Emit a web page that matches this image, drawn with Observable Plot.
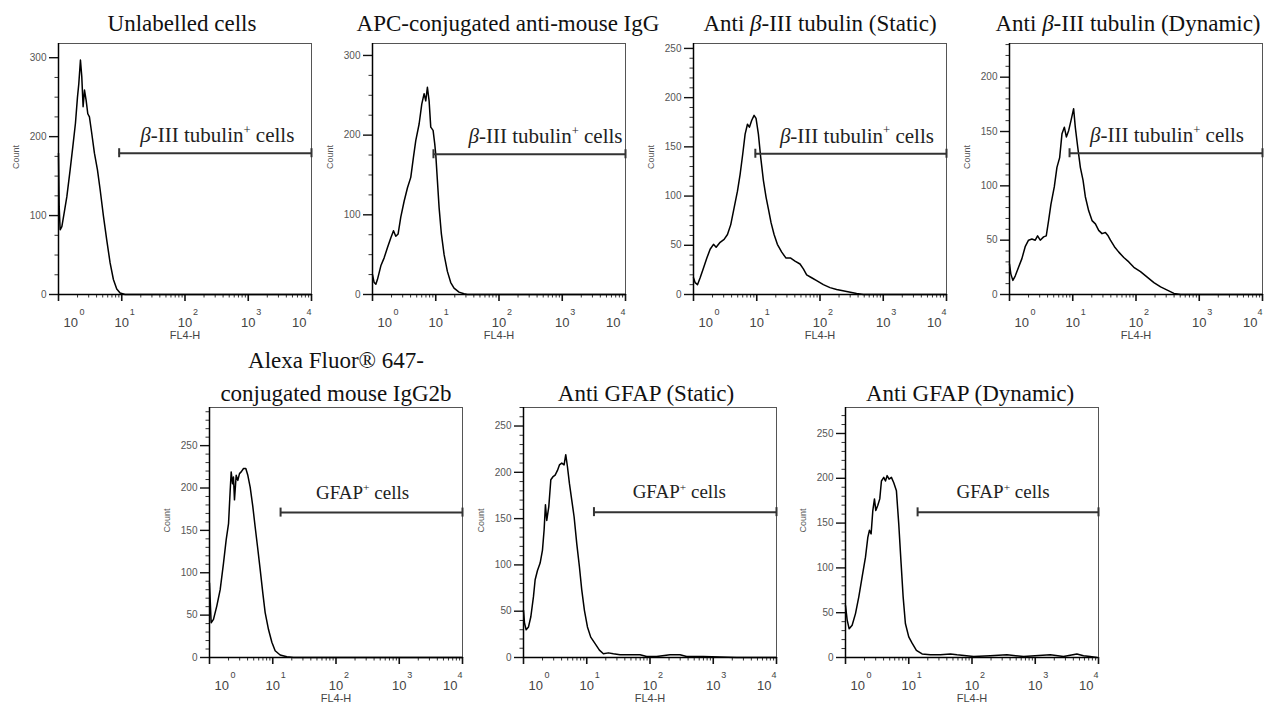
<!DOCTYPE html>
<html><head><meta charset="utf-8">
<script src="https://cdn.jsdelivr.net/npm/d3@7"></script>
<script src="https://cdn.jsdelivr.net/npm/@observablehq/plot@0.6"></script>
<style>
body{margin:0;background:#fff;}
#chart{position:relative;width:1280px;height:707px;background:#fff;overflow:hidden;}
</style></head><body><div id="chart"></div>
<script>
// ---------------- data ----------------
const titles = [
  "Unlabelled cells",
  "APC-conjugated anti-mouse IgG",
  "Anti β-III tubulin (Static)",
  "Anti β-III tubulin (Dynamic)",
  "Alexa Fluor® 647-\nconjugated mouse IgG2b",
  "Anti GFAP (Static)",
  "Anti GFAP (Dynamic)"
];
const gateLabels = [
  "β-III tubulin^+ cells", "β-III tubulin^+ cells", "β-III tubulin^+ cells", "β-III tubulin^+ cells",
  "GFAP^+ cells", "GFAP^+ cells", "GFAP^+ cells"
];
// log10(FL4-H) of each histogram point
const logUnlabelled = [0,0.011,0.026,0.053,0.089,0.132,0.184,0.226,0.268,0.300,0.321,0.347,0.368,0.389,0.411,0.437,0.463,0.489,0.526,0.568,0.616,0.658,0.711,0.763,0.816,0.868,0.921,0.974,1.053,4];
const cntUnlabelled = [179,111,82,86,103,124,158,187,217,250,267,297,276,238,259,246,229,225,204,179,158,133,99,69,40,19,7,2,0,0];
const logAPC = [0,0.026,0.053,0.079,0.132,0.184,0.237,0.289,0.332,0.368,0.405,0.447,0.5,0.553,0.605,0.647,0.684,0.737,0.779,0.816,0.842,0.868,0.895,0.921,0.958,0.984,1.0,1.026,1.053,1.089,1.132,1.184,1.237,1.289,1.368,1.447,1.5,4];
const cntAPC = [25,15,13,19,36,46,59,71,80,73,76,97,117,134,147,172,193,214,239,252,243,260,243,210,206,189,176,143,109,76,50,29,15,8,3,1,0,0];
const logTubStatic = [0,0.026,0.063,0.105,0.158,0.211,0.263,0.316,0.358,0.421,0.484,0.537,0.589,0.642,0.695,0.737,0.779,0.816,0.853,0.884,0.921,0.958,0.989,1.026,1.063,1.105,1.147,1.184,1.226,1.274,1.326,1.395,1.463,1.537,1.605,1.684,1.737,1.789,1.868,1.947,2.053,2.158,2.263,2.421,2.579,2.684,4];
const cntTubStatic = [17,12,10,17,27,37,46,51,48,53,56,61,71,88,105,122,143,163,173,170,177,182,179,163,139,116,99,87,73,61,51,43,37,37,34,31,26,20,17,14,10,7,5,3,1,0,0];
const logTubDynamic = [0,0.021,0.053,0.09,0.143,0.196,0.248,0.301,0.354,0.407,0.444,0.486,0.539,0.581,0.618,0.655,0.708,0.75,0.793,0.83,0.867,0.899,0.936,0.972,1.014,1.04,1.078,1.12,1.163,1.199,1.252,1.305,1.358,1.41,1.463,1.516,1.559,1.596,1.659,1.728,1.807,1.886,1.966,2.071,2.177,2.283,2.389,2.494,2.6,2.706,4];
const cntTubDynamic = [28,19,13,17,25,33,44,50,51,50,54,50,53,54,68,83,99,117,126,148,154,145,151,160,171,154,136,117,105,90,77,68,65,59,56,57,54,50,44,39,34,30,25,21,16,11,7,4,1,0,0];
const logAlexa = [0,0.026,0.063,0.116,0.169,0.221,0.264,0.301,0.327,0.343,0.364,0.379,0.395,0.422,0.448,0.474,0.501,0.538,0.574,0.606,0.643,0.685,0.722,0.759,0.801,0.843,0.88,0.933,0.986,1.038,1.117,1.223,1.328,4];
const cntAlexa = [88,41,45,61,80,111,139,158,197,219,205,213,186,215,209,217,219,223,223,215,201,178,154,131,104,76,53,33,18,8,3,1,0,0];
const logGfapStatic = [0,0.016,0.042,0.079,0.116,0.158,0.184,0.221,0.263,0.3,0.326,0.347,0.368,0.4,0.432,0.463,0.5,0.537,0.568,0.605,0.642,0.668,0.695,0.726,0.763,0.8,0.842,0.884,0.921,0.963,1.011,1.063,1.132,1.2,1.263,1.342,1.421,1.526,1.684,1.842,1.947,2.105,2.316,2.474,2.579,2.842,3.368,4];
const cntGfapStatic = [51,37,30,33,44,66,84,94,102,116,138,165,148,163,192,195,197,202,208,210,208,219,206,188,170,152,123,98,73,51,33,22,15,8,4,5,4,3,3,3,1,1,3,3,1,1,0,0];
const logGfapDynamic = [0,0.026,0.058,0.105,0.158,0.211,0.263,0.316,0.353,0.379,0.405,0.432,0.458,0.479,0.511,0.542,0.568,0.605,0.632,0.658,0.689,0.726,0.763,0.805,0.842,0.879,0.911,0.947,1,1.053,1.121,1.211,1.342,1.5,1.658,1.763,2.026,2.289,2.553,2.816,3.237,3.447,3.658,3.763,3.868,3.974];
const cntGfapDynamic = [58,42,32,36,49,68,90,112,134,142,138,164,177,164,170,177,197,201,197,203,199,201,195,186,149,105,68,38,23,16,8,4,3,3,4,3,1,2,3,1,3,1,4,2,1,0];

const logs = [logUnlabelled, logAPC, logTubStatic, logTubDynamic, logAlexa, logGfapStatic, logGfapDynamic];
const counts = [cntUnlabelled, cntAPC, cntTubStatic, cntTubDynamic, cntAlexa, cntGfapStatic, cntGfapDynamic];
const yMax = [318, 315, 255, 231, 295, 270, 279];
const yTicks = [[0,100,200,300],[0,100,200,300],[0,50,100,150,200,250],[0,50,100,150,200],[0,50,100,150,200,250],[0,50,100,150,200,250],[0,50,100,150,200,250]];
const yMinorStep = [25, 25, 10, 10, 10, 10, 10];
const gateStart = [9.1, 9.2, 9.5, 8.9, 13.3, 13, 13.8];
const gateEnd = 1e4;
const gateLevel = [179, 176, 143, 130, 171, 157, 162];
const xExponents = [0, 1, 2, 3, 4];

// ---------------- layout ----------------
const frameLeft = [58, 372, 693, 1009, 209, 523, 845];
const row = [0, 0, 0, 0, 1, 1, 1];
const titleDx = [-3, 9, 0, -8, 0, -4, -2];
const labelDx = [2, 16, 6, 1, -9, -6, -5];
const labelSize = [21, 21, 21, 21, 19, 19, 19];
const W = 253;
const serif = "'Liberation Serif','Times New Roman',serif";
const sans = "'Liberation Sans',Arial,sans-serif";

const xMajor = xExponents.map(e => 10 ** e);
const xMinor = [];
for (let d = 0; d < 4; d++) for (let k = 2; k <= 9; k++) xMinor.push(k * 10 ** d);

function richify(svg) {
  const NS = "http://www.w3.org/2000/svg";
  svg.querySelectorAll("text").forEach(t => {
    const parts = t.querySelectorAll("tspan");
    const targets = parts.length ? [...parts] : [t];
    for (const el of targets) {
      const s = el.textContent;
      if (!s.includes("β") && !s.includes("^+")) continue;
      const holder = el.closest("[font-size]");
      const fs = holder ? parseFloat(holder.getAttribute("font-size")) : 12;
      el.textContent = "";
      const tokens = s.split(/(β|\^\+)/).filter(x => x !== "");
      let raised = false;
      for (const tok of tokens) {
        const sp = document.createElementNS(NS, "tspan");
        if (tok === "^+") {
          sp.textContent = "+";
          sp.setAttribute("font-size", fs * 0.6);
          sp.setAttribute("dy", -fs * 0.4);
          raised = true;
        } else {
          sp.textContent = tok;
          if (tok === "β") sp.setAttribute("font-style", "italic");
          if (raised) { sp.setAttribute("dy", fs * 0.4); raised = false; }
        }
        el.appendChild(sp);
      }
    }
  });
}

const chart = document.getElementById("chart");

for (let i = 0; i < 7; i++) {
  const top = row[i] === 0 ? 0 : 340;
  const frameTop = row[i] === 0 ? 43 : 407;
  const frameH = row[i] === 0 ? 251 : 250;
  const mt = frameTop - top, mb = 50, ml = 60, mr = 14;
  const data = logs[i].map((v, j) => ({x: 10 ** v, y: counts[i][j]}));
  const yMinor = d3.range(0, yMax[i] + 0.001, yMinorStep[i]).filter(v => !yTicks[i].includes(v));
  const gx = gateStart[i];
  const lvl = gateLevel[i];
  const gate = [{x1: gx, x2: gateEnd, y: lvl}];
  const ends = [gx, gateEnd];
  const labelX = Math.sqrt(gx * gateEnd);
  const first = xExponents.slice(0, 1), mid = xExponents.slice(1, -1), last = xExponents.slice(-1);
  const lab = {frameAnchor: "bottom", fill: "#444", fontFamily: sans};
  const svg = Plot.plot({
    width: ml + W + mr, height: mt + frameH + mb,
    marginLeft: ml, marginRight: mr, marginTop: mt, marginBottom: mb,
    style: {background: "transparent", overflow: "visible", position: "absolute", left: (frameLeft[i] - ml) + "px", top: top + "px"},
    x: {type: "log", domain: [1, 1e4]},
    y: {domain: [0, yMax[i]]},
    marks: [
      Plot.frame({stroke: "#555", strokeWidth: 1}),
      Plot.axisY(yTicks[i], {tickSize: 0, tickPadding: 12, fontSize: 10, fill: "#555", label: null, fontFamily: sans}),
      // tick marks
      Plot.ruleY(yTicks[i], {y: d => d, x1: 1, x2: 1, insetLeft: -9, stroke: "#111", strokeWidth: 1.4}),
      Plot.ruleY(yMinor, {y: d => d, x1: 1, x2: 1, insetLeft: -3.5, stroke: "#333", strokeWidth: 1}),
      Plot.axisX(xMajor, {tickSize: 7, fill: "none", stroke: "#111", strokeWidth: 1.6, label: null}),
      Plot.axisX(xMinor, {tickSize: 3.5, fill: "none", stroke: "#333", strokeWidth: 1, label: null}),
      Plot.ruleY([0], {stroke: "#000", strokeWidth: 1.5}),
      Plot.ruleX([1], {stroke: "#000", strokeWidth: 1.5}),
      Plot.line(data, {x: "x", y: "y", stroke: "#000", strokeWidth: 1.5}),
      Plot.ruleY(gate, {x1: "x1", x2: "x2", y: "y", stroke: "#333", strokeWidth: 2}),
      Plot.ruleX(ends, {x: d => d, y1: lvl, y2: lvl, insetTop: -4.5, insetBottom: -4.5, stroke: "#333", strokeWidth: 2}),
      Plot.text([gateLabels[i]], {x: labelX, y: lvl, text: d => d, lineAnchor: "bottom", dy: row[i] === 0 ? -11 : -14, dx: labelDx[i], fontSize: labelSize[i], fontFamily: serif, fill: "#222"}),
      // x tick labels 10^k
      Plot.text(first, {...lab, x: d => 10 ** d, text: () => "10", textAnchor: "start", dx: 5, dy: 28, lineAnchor: "middle", fontSize: 13}),
      Plot.text(first, {...lab, x: d => 10 ** d, text: d => String(d), textAnchor: "start", dx: 21, dy: 18, lineAnchor: "middle", fontSize: 9}),
      Plot.text(mid, {...lab, x: d => 10 ** d, text: () => "10", textAnchor: "middle", dy: 28, lineAnchor: "middle", fontSize: 13}),
      Plot.text(mid, {...lab, x: d => 10 ** d, text: d => String(d), textAnchor: "start", dx: 8, dy: 18, lineAnchor: "middle", fontSize: 9}),
      Plot.text(last, {...lab, x: d => 10 ** d, text: () => "10", textAnchor: "end", dx: -5, dy: 28, lineAnchor: "middle", fontSize: 13}),
      Plot.text(last, {...lab, x: d => 10 ** d, text: d => String(d), textAnchor: "end", dx: 0, dy: 18, lineAnchor: "middle", fontSize: 9}),
      Plot.text(["FL4-H"], {...lab, text: d => d, dy: 41, lineAnchor: "middle", fontSize: 11}),
      Plot.text(["Count"], {frameAnchor: "left", text: d => d, dx: -42, rotate: -90, fontSize: 9, fill: "#555", fontFamily: sans}),
      Plot.text([titles[i]], {frameAnchor: "top", text: d => d, lineAnchor: "bottom", dy: row[i] === 0 ? -13 : -7, dx: titleDx[i], fontSize: 23, lineHeight: 1.43, fontFamily: serif, fill: "#111"})
    ]
  });
  richify(svg);
  chart.appendChild(svg);
}
</script></body></html>
